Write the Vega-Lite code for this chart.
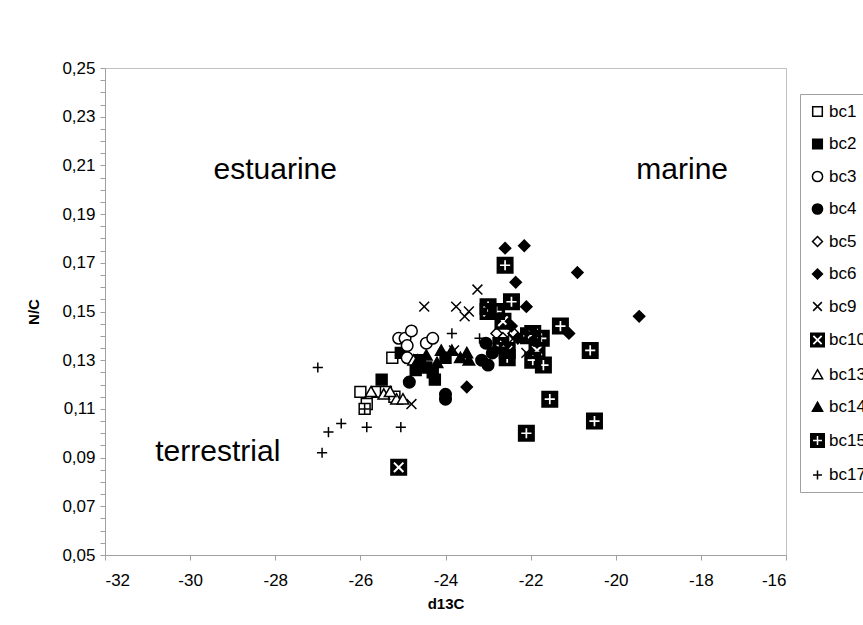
{
  "$schema": "https://vega.github.io/schema/vega-lite/v6.json",
  "width": 681,
  "height": 487,
  "autosize": {"type": "none"},
  "padding": {"left": 105, "top": 68, "right": 77, "bottom": 70},
  "background": "white",
  "config": {
    "view": {"stroke": "#c0c0c0", "strokeWidth": 1},
    "font": "Liberation Sans",
    "axis": {"grid": false, "domainColor": "#a0a0a0", "tickColor": "#a0a0a0", "labelFont": "Liberation Sans", "labelFontSize": 17, "labelColor": "black", "titleFont": "Liberation Sans", "titleFontSize": 15, "titleFontWeight": "bold", "titleColor": "black"}
  },
  "datasets": {
    "pts": [
      {"s": "bc1", "x": -26.0, "y": 0.117},
      {"s": "bc1", "x": -25.85, "y": 0.112},
      {"s": "bc1", "x": -25.6, "y": 0.117},
      {"s": "bc1", "x": -25.4, "y": 0.117},
      {"s": "bc1", "x": -25.2, "y": 0.115},
      {"s": "bc1", "x": -25.9, "y": 0.110},
      {"s": "bc1", "x": -25.25, "y": 0.131},
      {"s": "bc2", "x": -25.05, "y": 0.133},
      {"s": "bc2", "x": -25.5, "y": 0.122},
      {"s": "bc2", "x": -24.6, "y": 0.130},
      {"s": "bc2", "x": -24.45, "y": 0.127},
      {"s": "bc2", "x": -24.3, "y": 0.125},
      {"s": "bc2", "x": -24.25, "y": 0.122},
      {"s": "bc2", "x": -24.0, "y": 0.131},
      {"s": "bc2", "x": -24.7, "y": 0.126},
      {"s": "bc3", "x": -25.1, "y": 0.139},
      {"s": "bc3", "x": -24.95, "y": 0.139},
      {"s": "bc3", "x": -24.8, "y": 0.142},
      {"s": "bc3", "x": -24.9, "y": 0.136},
      {"s": "bc3", "x": -24.45, "y": 0.137},
      {"s": "bc3", "x": -24.3, "y": 0.139},
      {"s": "bc3", "x": -24.9, "y": 0.131},
      {"s": "bc4", "x": -24.85, "y": 0.121},
      {"s": "bc4", "x": -24.0, "y": 0.116},
      {"s": "bc4", "x": -24.0, "y": 0.114},
      {"s": "bc4", "x": -23.15, "y": 0.130},
      {"s": "bc4", "x": -23.05, "y": 0.137},
      {"s": "bc4", "x": -22.9, "y": 0.133},
      {"s": "bc4", "x": -23.0, "y": 0.128},
      {"s": "bc5", "x": -22.8, "y": 0.141},
      {"s": "bc5", "x": -22.65, "y": 0.139},
      {"s": "bc5", "x": -22.5, "y": 0.138},
      {"s": "bc5", "x": -22.6, "y": 0.136},
      {"s": "bc5", "x": -22.75, "y": 0.137},
      {"s": "bc5", "x": -22.4, "y": 0.141},
      {"s": "bc6", "x": -22.6, "y": 0.176},
      {"s": "bc6", "x": -22.15, "y": 0.177},
      {"s": "bc6", "x": -20.9, "y": 0.166},
      {"s": "bc6", "x": -22.35, "y": 0.162},
      {"s": "bc6", "x": -22.1, "y": 0.152},
      {"s": "bc6", "x": -19.45, "y": 0.148},
      {"s": "bc6", "x": -22.45, "y": 0.144},
      {"s": "bc6", "x": -21.1, "y": 0.141},
      {"s": "bc6", "x": -23.5, "y": 0.119},
      {"s": "bc6", "x": -22.3, "y": 0.139},
      {"s": "bc9", "x": -24.5, "y": 0.152},
      {"s": "bc9", "x": -23.75, "y": 0.152},
      {"s": "bc9", "x": -23.55, "y": 0.148},
      {"s": "bc9", "x": -23.25, "y": 0.159},
      {"s": "bc9", "x": -23.45, "y": 0.150},
      {"s": "bc9", "x": -23.8, "y": 0.134},
      {"s": "bc9", "x": -24.8, "y": 0.112},
      {"s": "bc9", "x": -22.4, "y": 0.139},
      {"s": "bc9", "x": -21.85, "y": 0.138},
      {"s": "bc9", "x": -22.1, "y": 0.133},
      {"s": "bc10", "x": -25.1, "y": 0.086},
      {"s": "bc10", "x": -22.65, "y": 0.146},
      {"s": "bc10", "x": -21.95, "y": 0.141},
      {"s": "bc10", "x": -21.85, "y": 0.134},
      {"s": "bc10", "x": -22.55, "y": 0.134},
      {"s": "bc10", "x": -23.0, "y": 0.150},
      {"s": "bc13", "x": -25.75, "y": 0.117},
      {"s": "bc13", "x": -25.45, "y": 0.116},
      {"s": "bc13", "x": -25.15, "y": 0.114},
      {"s": "bc13", "x": -25.0, "y": 0.114},
      {"s": "bc13", "x": -25.3, "y": 0.117},
      {"s": "bc13", "x": -24.75, "y": 0.130},
      {"s": "bc14", "x": -24.65, "y": 0.130},
      {"s": "bc14", "x": -24.45, "y": 0.132},
      {"s": "bc14", "x": -24.1, "y": 0.134},
      {"s": "bc14", "x": -23.85, "y": 0.134},
      {"s": "bc14", "x": -23.65, "y": 0.131},
      {"s": "bc14", "x": -23.45, "y": 0.130},
      {"s": "bc14", "x": -23.5, "y": 0.133},
      {"s": "bc14", "x": -24.2, "y": 0.129},
      {"s": "bc15", "x": -22.6, "y": 0.169},
      {"s": "bc15", "x": -23.0, "y": 0.152},
      {"s": "bc15", "x": -22.8, "y": 0.150},
      {"s": "bc15", "x": -22.45, "y": 0.154},
      {"s": "bc15", "x": -21.3, "y": 0.144},
      {"s": "bc15", "x": -22.05, "y": 0.140},
      {"s": "bc15", "x": -21.75, "y": 0.139},
      {"s": "bc15", "x": -20.6, "y": 0.134},
      {"s": "bc15", "x": -21.95, "y": 0.130},
      {"s": "bc15", "x": -22.55, "y": 0.131},
      {"s": "bc15", "x": -21.7, "y": 0.128},
      {"s": "bc15", "x": -21.55, "y": 0.114},
      {"s": "bc15", "x": -22.1, "y": 0.100},
      {"s": "bc15", "x": -20.5, "y": 0.105},
      {"s": "bc15", "x": -22.7, "y": 0.136},
      {"s": "bc17", "x": -27.0, "y": 0.127},
      {"s": "bc17", "x": -26.9, "y": 0.092},
      {"s": "bc17", "x": -26.75, "y": 0.1005},
      {"s": "bc17", "x": -26.45, "y": 0.104},
      {"s": "bc17", "x": -25.85, "y": 0.1025},
      {"s": "bc17", "x": -25.05, "y": 0.1025},
      {"s": "bc17", "x": -25.9, "y": 0.110},
      {"s": "bc17", "x": -23.85, "y": 0.141},
      {"s": "bc17", "x": -23.2, "y": 0.139}
    ],
    "notes": [
      {"x": -28.0, "y": 0.208, "t": "estuarine"},
      {"x": -18.44, "y": 0.208, "t": "marine"},
      {"x": -29.35, "y": 0.0925, "t": "terrestrial"}
    ]
  },
  "encoding": {
    "x": {"field": "x", "type": "quantitative", "title": "d13C",
          "scale": {"domain": [-32, -16], "nice": false, "zero": false},
          "axis": {"values": [-32, -30, -28, -26, -24, -22, -20, -18, -16], "labelExpr": "datum.value + ''", "tickSize": 5, "labelPadding": 12, "titlePadding": 8}},
    "y": {"field": "y", "type": "quantitative", "title": "N/C",
          "scale": {"domain": [0.05, 0.25], "nice": false, "zero": false},
          "axis": {"values": [0.05, 0.055, 0.06, 0.065, 0.07, 0.075, 0.08, 0.085, 0.09, 0.095, 0.1, 0.105, 0.11, 0.115, 0.12, 0.125, 0.13, 0.135, 0.14, 0.145, 0.15, 0.155, 0.16, 0.165, 0.17, 0.175, 0.18, 0.185, 0.19, 0.195, 0.2, 0.205, 0.21, 0.215, 0.22, 0.225, 0.23, 0.235, 0.24, 0.245, 0.25],
                   "labelExpr": "round(datum.value*1000) % 20 == 10 ? replace(format(datum.value, '.2f'), '.', ',') : ''",
                   "labelOverlap": false, "tickSize": 5, "labelPadding": 5, "titlePadding": 20}}
  },
  "layer": [
    {
      "data": {"name": "pts"},
      "mark": {"type": "point", "opacity": 1, "strokeWidth": 1.5, "size": 289},
      "encoding": {
        "shape": {"field": "s", "type": "nominal",
                  "scale": {"domain": ["bc1", "bc2", "bc3", "bc4", "bc5", "bc6", "bc9", "bc10", "bc13", "bc14", "bc15", "bc17"],
                            "range": [
                              "M-0.64,-0.64H0.64V0.64H-0.64Z",
                              "M-0.64,-0.64H0.64V0.64H-0.64Z",
                              "M-0.68,0A0.68,0.68,0,1,1,0.68,0A0.68,0.68,0,1,1,-0.68,0Z",
                              "M-0.68,0A0.68,0.68,0,1,1,0.68,0A0.68,0.68,0,1,1,-0.68,0Z",
                              "M0,-0.66L0.66,0L0,0.66L-0.66,0Z",
                              "M0,-0.66L0.66,0L0,0.66L-0.66,0Z",
                              "M-0.58,-0.58L0.58,0.58M-0.58,0.58L0.58,-0.58",
                              "M-1,-1H1V1H-1ZM0,-0.17L-0.47,-0.64L-0.64,-0.47L-0.17,0L-0.64,0.47L-0.47,0.64L0,0.17L0.47,0.64L0.64,0.47L0.17,0L0.64,-0.47L0.47,-0.64Z",
                              "M0,-0.64L0.68,0.56L-0.68,0.56Z",
                              "M0,-0.64L0.68,0.56L-0.68,0.56Z",
                              "M-1,-1H1V1H-1ZM-0.1,-0.1L-0.6,-0.1L-0.6,0.1L-0.1,0.1L-0.1,0.6L0.1,0.6L0.1,0.1L0.6,0.1L0.6,-0.1L0.1,-0.1L0.1,-0.6L-0.1,-0.6Z",
                              "M-0.6,0H0.6M0,-0.6V0.6"
                            ]},
                  "legend": {"orient": "none", "legendX": 695, "legendY": 26, "title": null, "padding": 9,
                             "strokeColor": "#a0a0a0", "fillColor": "white", "symbolSize": 225, "symbolStrokeWidth": 1.5,
                             "labelFont": "Liberation Sans", "labelFontSize": 17, "labelColor": "black", "labelOffset": 3, "rowPadding": 14.5}},
        "fill": {"field": "s", "type": "nominal",
                 "scale": {"domain": ["bc1", "bc2", "bc3", "bc4", "bc5", "bc6", "bc9", "bc10", "bc13", "bc14", "bc15", "bc17"],
                           "range": ["white", "black", "white", "black", "white", "black", "transparent", "black", "white", "black", "black", "transparent"]}},
        "stroke": {"field": "s", "type": "nominal",
                   "scale": {"domain": ["bc1", "bc2", "bc3", "bc4", "bc5", "bc6", "bc9", "bc10", "bc13", "bc14", "bc15", "bc17"],
                             "range": ["black", "black", "black", "black", "black", "black", "black", "transparent", "black", "black", "transparent", "black"]}}
      }
    },
    {
      "data": {"name": "notes"},
      "mark": {"type": "text", "fontSize": 30, "font": "Liberation Sans", "align": "center", "baseline": "middle", "color": "black"},
      "encoding": {
        "text": {"field": "t"}
      }
    }
  ]
}
